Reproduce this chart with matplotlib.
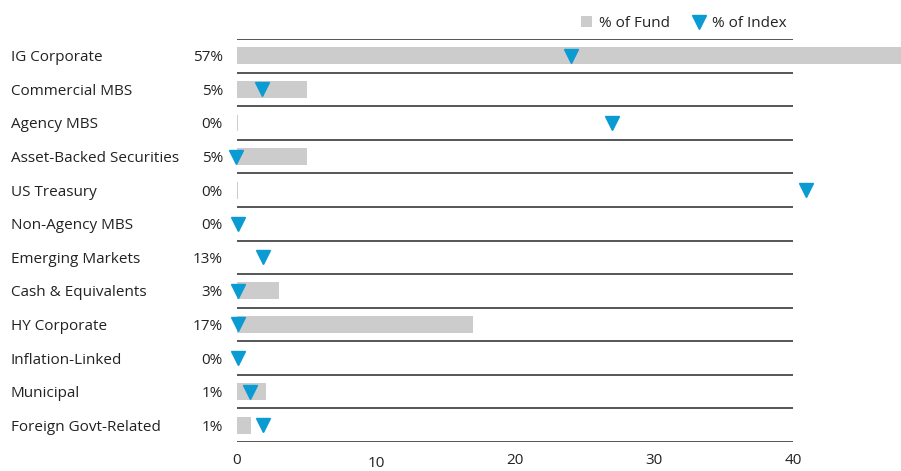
import numpy as np
import matplotlib.pyplot as plt
import matplotlib.transforms as mtransforms
from matplotlib.lines import Line2D
from matplotlib.patches import Patch

plt.rcParams['font.family'] = ['Open Sans', 'DejaVu Sans']

categories = ['IG Corporate', 'Commercial MBS', 'Agency MBS', 'Asset-Backed Securities',
              'US Treasury', 'Non-Agency MBS', 'Emerging Markets', 'Cash & Equivalents',
              'HY Corporate', 'Inflation-Linked', 'Municipal', 'Foreign Govt-Related']
fund_labels = ['57%', '5%', '0%', '5%', '0%', '0%', '13%', '3%', '17%', '0%', '1%', '1%']
fund_bars = [57, 5.0, 0.05, 5.0, 0.05, 0, 0, 3.0, 17.0, 0, 2.1, 1.0]
index_pct = [24.0, 1.8, 27.0, -0.1, 40.9, 0.1, 1.9, 0.1, 0.1, 0.1, 0.9, 1.9]
xticks = [0, 10, 20, 30, 40]

grey = '#cccccc'
blue = '#0a9bd2'
text_col = '#222222'
fs = 11

fig = plt.figure(figsize=(9.01, 4.71), dpi=100)
ax = fig.add_axes([237 / 901, 1 - 442 / 471, 556 / 901, 403 / 471])

y = np.arange(len(categories))
ax.barh(y, fund_bars, height=0.5, color=grey, clip_on=False, zorder=2)
ax.plot(index_pct, y, linestyle='none', marker='v', markersize=9.5, color=blue,
        clip_on=False, zorder=4)

# separator lines between rows
ax.hlines(np.arange(-0.5, len(categories)), 0, 40, colors='#555555', linewidth=1.4, zorder=3)

ax.set_xlim(0, 40)
ax.set_ylim(len(categories) - 0.5, -0.5)
ax.set_yticks([])
ax.set_xticks(xticks)
ax.tick_params(axis='x', length=0, pad=8, labelsize=fs, labelcolor=text_col)
for s in ax.spines.values():
    s.set_visible(False)

# the "10" label sits a bit lower in the original
lbls = ax.get_xticklabels()
lbls[1].set_transform(lbls[1].get_transform() +
                      mtransforms.ScaledTranslation(0, -3 / 100, fig.dpi_scale_trans))

down = mtransforms.ScaledTranslation(0, -2 / 100, fig.dpi_scale_trans)
trans = mtransforms.blended_transform_factory(fig.transFigure, ax.transData) + down
for i, (cat, lab) in enumerate(zip(categories, fund_labels)):
    ax.text(11 / 901, i, cat, transform=trans, ha='left', va='center',
            fontsize=fs, color=text_col)
    ax.text(223 / 901, i, lab, transform=trans, ha='right', va='center',
            fontsize=fs, color=text_col)

handles = [Patch(facecolor=grey, edgecolor='none'),
           Line2D([], [], linestyle='none', marker='v', markersize=9.5, color=blue)]
fig.legend(handles, ['% of Fund', '% of Index'], loc='upper right',
           bbox_to_anchor=(800 / 901, 0.995), ncol=2, frameon=False, fontsize=fs,
           handlelength=0.7, handletextpad=0.5, columnspacing=1.5, labelcolor=text_col)

fig.savefig('out.png', dpi=100)
